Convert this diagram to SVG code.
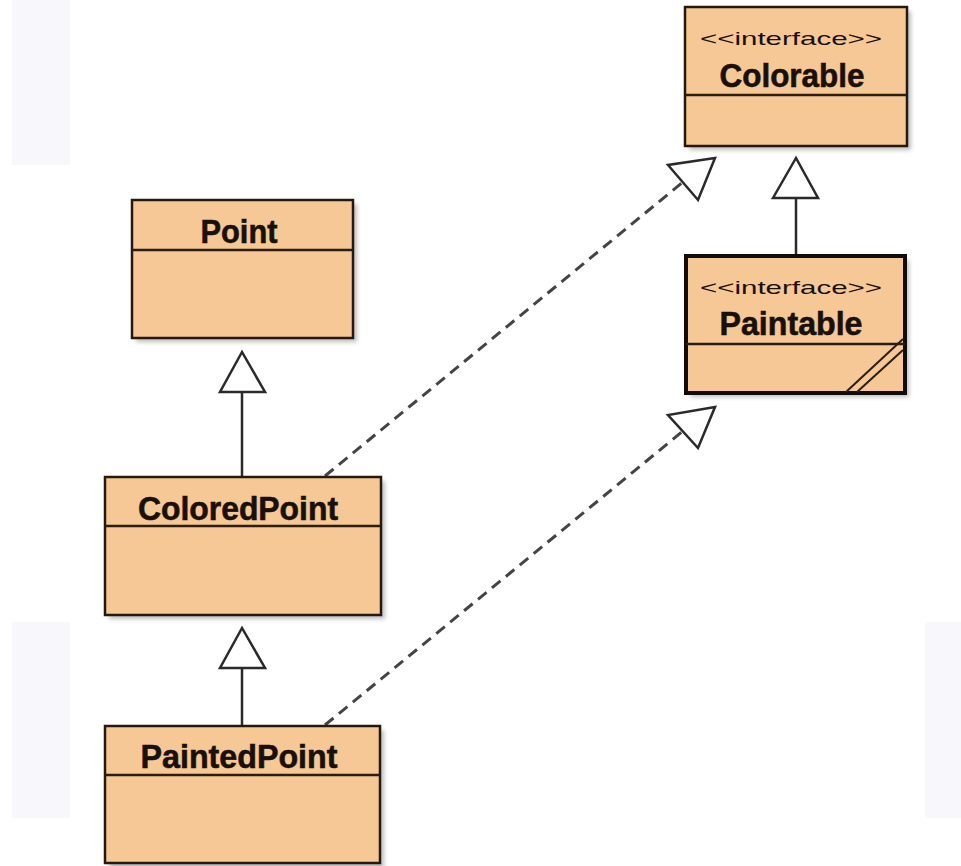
<svg xmlns="http://www.w3.org/2000/svg" width="961" height="866" viewBox="0 0 961 866">
<style>
.box{fill:#f5c895;stroke:#25180e;stroke-width:2.5}
.thick{stroke-width:4;stroke:#120c08}
.div{stroke:#2b1d12;stroke-width:2.5}
.shadow{fill:#8a8a8a;opacity:0.55}
.name{font-family:"Liberation Sans",Arial,sans-serif;font-weight:bold;font-size:34px;fill:#1a100a;stroke:#1a100a;stroke-width:0.6}
.stereo{font-family:"Liberation Sans",Arial,sans-serif;font-size:19px;fill:#1a100a}
.line{stroke:#2a2a2a;stroke-width:2.5;fill:none}
.dash{stroke:#444;stroke-width:3;fill:none;stroke-dasharray:11 7}
.tri{fill:#fff;stroke:#2a2a2a;stroke-width:2.5;stroke-linejoin:miter}
.bg{fill:#f8f8fc}
</style>
<defs>
<filter id="blur" x="-10%" y="-10%" width="130%" height="130%"><feGaussianBlur stdDeviation="2"/></filter>
</defs>
<rect width="961" height="866" fill="#fff"/>
<rect class="bg" x="12" y="0" width="58" height="165"/>
<rect class="bg" x="12" y="622" width="58" height="196"/>
<rect class="bg" x="925" y="622" width="36" height="196"/>

<g id="connectors">
  <line class="line" x1="242" y1="477" x2="242" y2="392"/>
  <polygon class="tri" points="242,352 220,392 265,392"/>
  <line class="line" x1="242" y1="726" x2="242" y2="668"/>
  <polygon class="tri" points="242,628 220,668 265,668"/>
  <line class="line" x1="796" y1="256" x2="796" y2="198"/>
  <polygon class="tri" points="796,158 773,198 818,198"/>
  <line class="dash" x1="325" y1="476" x2="683" y2="182"/>
  <polygon class="tri" points="715,158 668,165 698,200"/>
  <line class="dash" x1="325" y1="725" x2="683" y2="431"/>
  <polygon class="tri" points="715,407 668,415 698,448"/>
</g>

<g id="Colorable">
  <rect class="shadow" x="689" y="11" width="222" height="139" filter="url(#blur)"/>
  <rect class="box" x="685" y="7" width="222" height="139"/>
  <line class="div" x1="685" y1="95" x2="907" y2="95"/>
  <text class="stereo" x="791" y="45" text-anchor="middle" textLength="182" lengthAdjust="spacingAndGlyphs">&lt;&lt;interface&gt;&gt;</text>
  <text class="name" x="792" y="87" text-anchor="middle" textLength="145" lengthAdjust="spacingAndGlyphs">Colorable</text>
</g>

<g id="Paintable">
  <rect class="shadow" x="690" y="260" width="219" height="137" filter="url(#blur)"/>
  <rect class="box thick" x="686" y="256" width="219" height="137"/>
  <line class="div" x1="686" y1="344" x2="905" y2="344"/>
  <line stroke="#2b1d12" stroke-width="2" x1="846" y1="392" x2="903" y2="339"/>
  <line stroke="#2b1d12" stroke-width="2" x1="857" y1="392" x2="903" y2="350"/>
  <text class="stereo" x="791" y="294" text-anchor="middle" textLength="182" lengthAdjust="spacingAndGlyphs">&lt;&lt;interface&gt;&gt;</text>
  <text class="name" x="791" y="335" text-anchor="middle" textLength="143" lengthAdjust="spacingAndGlyphs">Paintable</text>
</g>

<g id="Point">
  <rect class="shadow" x="136" y="204" width="221" height="138" filter="url(#blur)"/>
  <rect class="box" x="132" y="200" width="221" height="138"/>
  <line class="div" x1="132" y1="250" x2="353" y2="250"/>
  <text class="name" x="239" y="243" text-anchor="middle" textLength="77" lengthAdjust="spacingAndGlyphs">Point</text>
</g>

<g id="ColoredPoint">
  <rect class="shadow" x="109" y="481" width="276" height="138" filter="url(#blur)"/>
  <rect class="box" x="105" y="477" width="276" height="138"/>
  <line class="div" x1="105" y1="526" x2="381" y2="526"/>
  <text class="name" x="238" y="520" text-anchor="middle" textLength="200" lengthAdjust="spacingAndGlyphs">ColoredPoint</text>
</g>

<g id="PaintedPoint">
  <rect class="shadow" x="109" y="730" width="275" height="140" filter="url(#blur)"/>
  <rect class="box" x="105" y="726" width="275" height="137"/>
  <line class="div" x1="105" y1="775" x2="380" y2="775"/>
  <text class="name" x="239" y="768" text-anchor="middle" textLength="197" lengthAdjust="spacingAndGlyphs">PaintedPoint</text>
</g>
</svg>
